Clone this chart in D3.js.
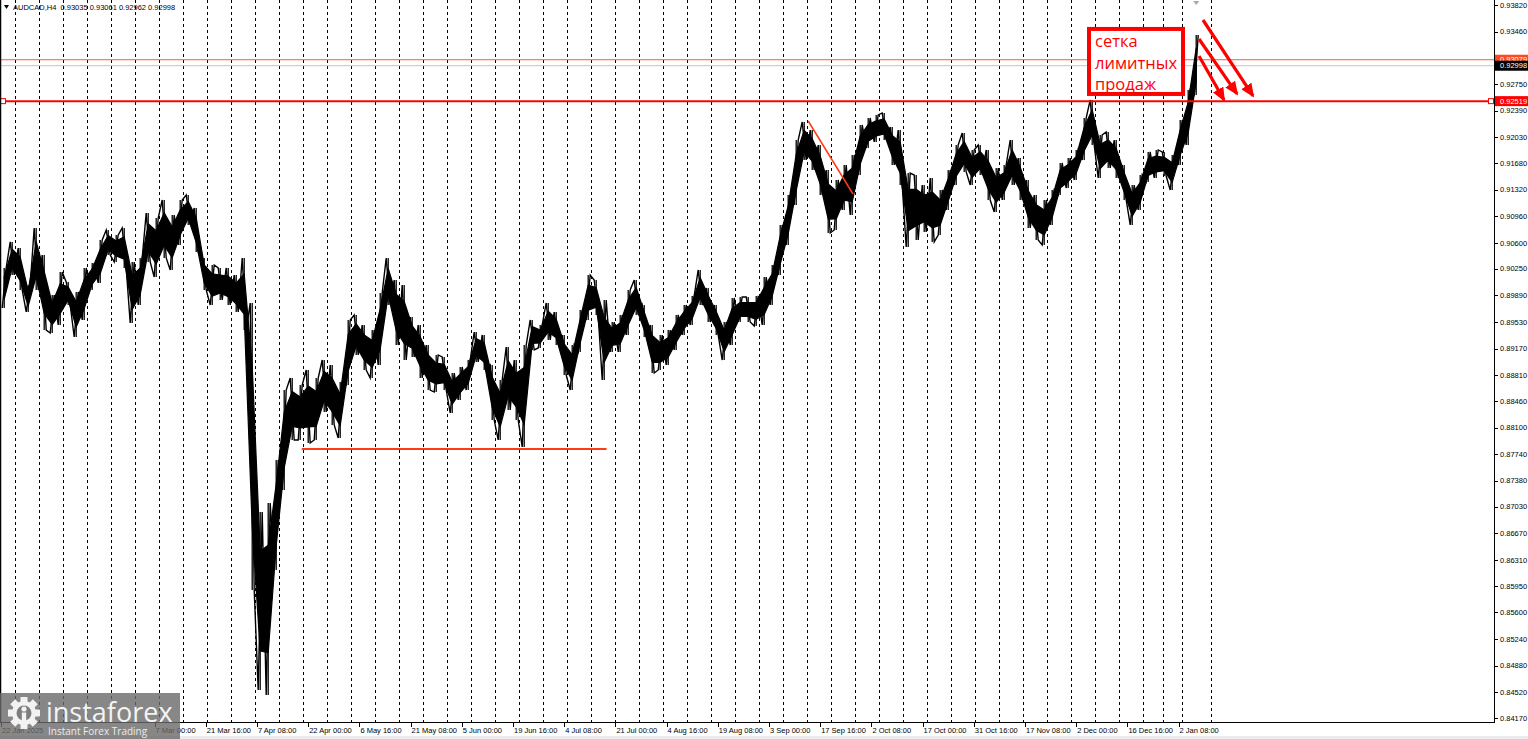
<!DOCTYPE html>
<html lang="en">
<head>
<meta charset="UTF-8">
<title>AUDCAD,H4</title>
<script src="https://d3js.org/d3.v7.min.js"></script>
<style>
  html, body { margin: 0; padding: 0; background: #fff; overflow: hidden; }
  svg { display: block; font-family: "Liberation Sans", Arial, sans-serif; }
</style>
</head>
<body>
<div id="chart"></div>
<script>
// price samples: high / low of every 10 H4 bars
const sampleStep = 10;
const highs = [
  0.90261, 0.90613, 0.90531, 0.90031, 0.90802, 0.90437, 0.89895, 0.90206, 0.90071, 0.89936,
  0.90261, 0.90328, 0.90640, 0.90775, 0.90707, 0.90802, 0.90342, 0.90396, 0.91005, 0.90937,
  0.91181, 0.90978, 0.91181, 0.91249, 0.91073, 0.90396, 0.90301, 0.90261, 0.90261, 0.90166,
  0.90396, 0.89787, 0.86958, 0.87080, 0.87662, 0.88609, 0.88772, 0.88677, 0.88880, 0.88772,
  0.89015, 0.88948, 0.88718, 0.89557, 0.89625, 0.89489, 0.89421, 0.89922, 0.90396, 0.90098,
  0.90031, 0.89597, 0.89489, 0.89218, 0.89083, 0.89056, 0.88839, 0.88921, 0.89015, 0.89394,
  0.89354, 0.88948, 0.88745, 0.89191, 0.89015, 0.89218, 0.89557, 0.89489, 0.89787, 0.89665,
  0.89354, 0.89218, 0.89692, 0.90166, 0.90098, 0.89828, 0.89530, 0.89625, 0.89963, 0.90098,
  0.89760, 0.89489, 0.89354, 0.89421, 0.89625, 0.89760, 0.89882, 0.90234, 0.89990, 0.89760,
  0.89530, 0.89855, 0.89868, 0.89868, 0.89882, 0.90139, 0.90301, 0.90843, 0.91249, 0.91993,
  0.92237, 0.92128, 0.91925, 0.91587, 0.91452, 0.91655, 0.91790, 0.92196, 0.92291, 0.92332,
  0.92359, 0.92169, 0.92128, 0.91546, 0.91519, 0.91384, 0.91479, 0.91316, 0.91587, 0.91925,
  0.92088, 0.91858, 0.91925, 0.91858, 0.91614, 0.91655, 0.91993, 0.91749, 0.91452, 0.91249,
  0.91181, 0.91316, 0.91682, 0.91749, 0.91858, 0.92291, 0.92535, 0.92061, 0.92101, 0.91993,
  0.91655, 0.91384, 0.91519, 0.91831, 0.91858, 0.91831, 0.91790, 0.92264, 0.92670, 0.93414
];
const lows = [
  0.89719, 0.90166, 0.89963, 0.89665, 0.89963, 0.89421, 0.89381, 0.89489, 0.89760, 0.89327,
  0.89557, 0.89963, 0.90058, 0.90437, 0.90342, 0.90261, 0.89516, 0.89760, 0.90342, 0.90139,
  0.90396, 0.90234, 0.90572, 0.90843, 0.90477, 0.89963, 0.89760, 0.89828, 0.89760, 0.89665,
  0.89421, 0.85902, 0.84549, 0.84481, 0.86173, 0.87256, 0.87933, 0.87933, 0.87892, 0.87933,
  0.88312, 0.88136, 0.87960, 0.88677, 0.89083, 0.88880, 0.88772, 0.88948, 0.89760, 0.89218,
  0.89015, 0.89056, 0.88772, 0.88609, 0.88582, 0.88609, 0.88298, 0.88474, 0.88609, 0.88988,
  0.88880, 0.88203, 0.87933, 0.88339, 0.88203, 0.87838, 0.89151, 0.89178, 0.89286, 0.89218,
  0.88812, 0.88609, 0.89124, 0.89557, 0.89625, 0.88745, 0.89124, 0.89124, 0.89354, 0.89625,
  0.89327, 0.88839, 0.88880, 0.88948, 0.89151, 0.89354, 0.89489, 0.89760, 0.89530, 0.89354,
  0.89015, 0.89218, 0.89530, 0.89530, 0.89476, 0.89489, 0.89760, 0.90166, 0.90572, 0.91113,
  0.91722, 0.91587, 0.91249, 0.90734, 0.90775, 0.91046, 0.90978, 0.91519, 0.91885, 0.91966,
  0.91993, 0.91655, 0.91384, 0.90545, 0.90640, 0.90748, 0.90613, 0.90707, 0.91046, 0.91384,
  0.91560, 0.91384, 0.91519, 0.91181, 0.91019, 0.91181, 0.91384, 0.91181, 0.90802, 0.90640,
  0.90572, 0.90843, 0.91249, 0.91343, 0.91452, 0.91722, 0.91925, 0.91479, 0.91614, 0.91479,
  0.91181, 0.90843, 0.91046, 0.91425, 0.91479, 0.91506, 0.91316, 0.91655, 0.91925, 0.92602
];

const priceTicks = [
  "0.93820", "0.93460", "0.93100", "0.92750", "0.92390", "0.92030", "0.91680",
  "0.91320", "0.90960", "0.90600", "0.90250", "0.89890", "0.89530", "0.89170",
  "0.88810", "0.88460", "0.88100", "0.87740", "0.87380", "0.87030", "0.86670",
  "0.86310", "0.85950", "0.85600", "0.85240", "0.84880", "0.84520", "0.84170"
];

// one label every 64 bars; the 2nd and 3rd sit under the watermark and are not visible
const timeLabelStep = 64;
const timeLabels = [
  "22 Jan 2025", "", "", "7 Mar 00:00", "21 Mar 16:00",
  "7 Apr 08:00", "22 Apr 00:00", "6 May 16:00", "21 May 08:00", "5 Jun 00:00",
  "19 Jun 16:00", "4 Jul 08:00", "21 Jul 00:00", "4 Aug 16:00", "19 Aug 08:00",
  "3 Sep 00:00", "17 Sep 16:00", "2 Oct 08:00", "17 Oct 00:00", "31 Oct 16:00",
  "17 Nov 08:00", "2 Dec 00:00", "16 Dec 16:00", "2 Jan 08:00"
];

// weekly separators (bar index of each Monday 00:00), holidays shorten the last weeks
const weekStarts = d3.range(18, 1429, 30).concat([1452, 1476, 1512]);

const header = "AUDCAD,H4  0.93035 0.93061 0.92962 0.92998";
const bidPrice = 0.92998;
const orangeLevel = 0.93079;
const redLevel = 0.92519;

const supportLine = { from: 376, to: 757, price: 0.8781 };
const trendLine = [[1009, 0.92250], [1065, 0.91262]];
const noteBox = { from: 1357.5, to: 1480, top: 0.93523, bottom: 0.92589 };
const noteLines = ["сетка", "лимитных", "продаж"];
const arrows = [
  [[1502.5, 0.93617], [1565, 0.92589]],
  [[1497.5, 0.93360], [1545, 0.92616]],
  [[1497.5, 0.93130], [1528.75, 0.92535]]
];

const width = 1528;
const height = 739;
const plot = { left: 0, right: 1494, top: 0, bottom: 722 };

const svg = d3.select('#chart')
  .append('svg')
  .attr('width', width)
  .attr('height', height);

const x = d3.scaleLinear()
  .domain([0, 1866])
  .range([1, 1493.8]);

const y = d3.scaleLinear()
  .domain([0.8417, 0.9382])
  .range([718, 5]);

svg.append('rect')
  .attr('x', 0).attr('y', 736)
  .attr('width', width).attr('height', 3)
  .attr('fill', '#ececec');

// week separators
svg.append('g')
  .selectAll('line')
  .data(weekStarts)
  .enter().append('line')
  .attr('x1', d => Math.round(x(d)) + 0.5)
  .attr('x2', d => Math.round(x(d)) + 0.5)
  .attr('y1', plot.top)
  .attr('y2', plot.bottom)
  .attr('stroke', '#000')
  .attr('stroke-width', 1)
  .attr('stroke-dasharray', '3,3');

// horizontal price levels
svg.append('line')
  .attr('x1', plot.left).attr('x2', plot.right)
  .attr('y1', y(orangeLevel)).attr('y2', y(orangeLevel))
  .attr('stroke', '#ff5a36').attr('stroke-width', 1);

svg.append('line')
  .attr('x1', plot.left).attr('x2', plot.right)
  .attr('y1', y(bidPrice)).attr('y2', y(bidPrice))
  .attr('stroke', '#c4c4c4').attr('stroke-width', 1);

// price series
const series = highs.map((h, i) => ({ bar: i * sampleStep + 4, high: h, low: lows[i] }));
const priceG = svg.append('g');

// solid core of overlapping bars
const core = d3.area()
  .x(d => x(d.bar))
  .y0(d => y(d.low + (d.high - d.low) * 0.22))
  .y1(d => y(d.high - (d.high - d.low) * 0.22));

priceG.append('path')
  .datum(series)
  .attr('d', core)
  .attr('fill', '#000')
  .attr('stroke', '#000')
  .attr('stroke-width', 1.2)
  .attr('stroke-linejoin', 'round');

// zigzag through highs and lows gives the ragged bar edges
const zig = [];
series.forEach((d, i) => {
  const next = series[Math.min(i + 1, series.length - 1)];
  const rising = (next.high + next.low) >= (d.high + d.low);
  const a = rising ? d.low : d.high;
  const b = rising ? d.high : d.low;
  zig.push([d.bar - 2.5, a], [d.bar, (a + b) / 2], [d.bar + 2.5, b]);
});

priceG.append('path')
  .datum(zig)
  .attr('d', d3.line().x(d => x(d[0])).y(d => y(d[1])))
  .attr('fill', 'none')
  .attr('stroke', '#000')
  .attr('stroke-width', 1.4);

priceG.selectAll('line')
  .data(series)
  .enter().append('line')
  .attr('x1', d => x(d.bar)).attr('x2', d => x(d.bar))
  .attr('y1', d => y(d.high)).attr('y2', d => y(d.low))
  .attr('stroke', '#000')
  .attr('stroke-width', 1.3);

// red support line and trend line
svg.append('line')
  .attr('x1', x(supportLine.from)).attr('x2', x(supportLine.to))
  .attr('y1', y(supportLine.price)).attr('y2', y(supportLine.price))
  .attr('stroke', '#ff3b14').attr('stroke-width', 2);

svg.append('line')
  .attr('x1', x(trendLine[0][0])).attr('y1', y(trendLine[0][1]))
  .attr('x2', x(trendLine[1][0])).attr('y2', y(trendLine[1][1]))
  .attr('stroke', '#ff3b14').attr('stroke-width', 1.5);

// red level with its handles
svg.append('line')
  .attr('x1', plot.left + 2).attr('x2', plot.right)
  .attr('y1', y(redLevel)).attr('y2', y(redLevel))
  .attr('stroke', '#ff0000').attr('stroke-width', 2);

svg.selectAll('.handle')
  .data([plot.left + 3, plot.right - 3])
  .enter().append('rect')
  .attr('class', 'handle')
  .attr('x', d => d - 2.5)
  .attr('y', y(redLevel) - 2.5)
  .attr('width', 5).attr('height', 5)
  .attr('fill', '#fff')
  .attr('stroke', '#ff0000')
  .attr('stroke-width', 1);

// note box
svg.append('rect')
  .attr('x', x(noteBox.from) + 2)
  .attr('y', y(noteBox.top) + 2)
  .attr('width', x(noteBox.to) - x(noteBox.from) - 4)
  .attr('height', y(noteBox.bottom) - y(noteBox.top) - 4)
  .attr('fill', '#fff')
  .attr('stroke', '#ff0000')
  .attr('stroke-width', 4);

svg.append('g')
  .selectAll('text')
  .data(noteLines)
  .enter().append('text')
  .attr('x', x(noteBox.from) + 8)
  .attr('y', (d, i) => y(noteBox.top) + 20 + i * 21.7)
  .attr('fill', '#ff0000')
  .style('font-family', '"Open Sans", sans-serif')
  .style('font-size', '16.5px')
  .text(d => d);

// arrows
const defs = svg.append('defs');
defs.append('marker')
  .attr('id', 'head')
  .attr('markerUnits', 'userSpaceOnUse')
  .attr('markerWidth', 14).attr('markerHeight', 12)
  .attr('refX', 12).attr('refY', 6)
  .attr('orient', 'auto')
  .append('path')
  .attr('d', 'M0,0 L14,6 L0,12 Z')
  .attr('fill', '#ff0000');

svg.append('g')
  .selectAll('line')
  .data(arrows)
  .enter().append('line')
  .attr('x1', d => x(d[0][0])).attr('y1', d => y(d[0][1]))
  .attr('x2', d => x(d[1][0])).attr('y2', d => y(d[1][1]))
  .attr('stroke', '#ff0000')
  .attr('stroke-width', 3.2)
  .attr('marker-end', 'url(#head)');

// frame and axes
svg.append('line')
  .attr('x1', 0.5).attr('x2', 0.5).attr('y1', 0).attr('y2', plot.bottom)
  .attr('stroke', '#000').attr('stroke-width', 1.5);
svg.append('line')
  .attr('x1', plot.left).attr('x2', plot.right + 0.5)
  .attr('y1', plot.bottom + 0.5).attr('y2', plot.bottom + 0.5)
  .attr('stroke', '#000');
svg.append('line')
  .attr('x1', plot.right + 0.5).attr('x2', plot.right + 0.5)
  .attr('y1', 0).attr('y2', plot.bottom + 1)
  .attr('stroke', '#000');

const yAxis = svg.append('g');
yAxis.selectAll('line')
  .data(priceTicks)
  .enter().append('line')
  .attr('x1', plot.right).attr('x2', plot.right + 4)
  .attr('y1', d => Math.round(y(+d)) + 0.5)
  .attr('y2', d => Math.round(y(+d)) + 0.5)
  .attr('stroke', '#000');
yAxis.selectAll('text')
  .data(priceTicks)
  .enter().append('text')
  .attr('x', plot.right + 6)
  .attr('y', d => y(+d))
  .attr('dy', '0.35em')
  .style('font-size', '7.5px')
  .attr('fill', '#000')
  .text(d => d);

// price labels on the axis
const priceLabels = [
  { price: orangeLevel, fill: '#ff4a1c', color: '#fff' },
  { price: bidPrice, fill: '#000', color: '#fff' },
  { price: redLevel, fill: '#ff0000', color: '#fff' }
];
const pl = svg.append('g').selectAll('g')
  .data(priceLabels)
  .enter().append('g');
pl.append('rect')
  .attr('x', plot.right + 1)
  .attr('y', d => y(d.price) - 5)
  .attr('width', 33).attr('height', 10)
  .attr('fill', d => d.fill);
pl.append('text')
  .attr('x', plot.right + 6)
  .attr('y', d => y(d.price))
  .attr('dy', '0.35em')
  .style('font-size', '7.5px')
  .attr('fill', d => d.color)
  .text(d => d.price.toFixed(5));

const timeTicks = timeLabels
  .map((label, i) => ({ label, bar: i * timeLabelStep }))
  .filter(d => d.label !== "");

const xAxis = svg.append('g');
xAxis.selectAll('line')
  .data(timeTicks)
  .enter().append('line')
  .attr('x1', d => Math.round(x(d.bar)) + 0.5)
  .attr('x2', d => Math.round(x(d.bar)) + 0.5)
  .attr('y1', plot.bottom).attr('y2', plot.bottom + 5)
  .attr('stroke', '#000');
xAxis.selectAll('text')
  .data(timeTicks)
  .enter().append('text')
  .attr('x', d => x(d.bar) + 1)
  .attr('y', 733)
  .style('font-size', '7.5px')
  .attr('fill', '#000')
  .text(d => d.label);

// header
svg.append('path')
  .attr('d', 'M4,5 L9,5 L6.5,9 Z')
  .attr('fill', '#000');
svg.append('text')
  .attr('x', 13).attr('y', 10)
  .style('font-size', '7.5px')
  .style('white-space', 'pre')
  .attr('fill', '#000')
  .text(header);

// chart shift marker
const lastBar = series[series.length - 1].bar;
svg.append('path')
  .attr('d', `M${x(lastBar) - 3},1 L${x(lastBar) + 3},1 L${x(lastBar)},5 Z`)
  .attr('fill', '#a8a8a8');

// watermark
const logo = svg.append('g');
logo.append('rect')
  .attr('x', 0).attr('y', 693)
  .attr('width', 180).attr('height', 46)
  .attr('fill', 'rgb(105,105,105)')
  .attr('fill-opacity', 0.8);

const gear = logo.append('g').attr('transform', 'translate(24,713)');
d3.range(8).forEach(k => {
  gear.append('rect')
    .attr('x', -3.5).attr('y', -16)
    .attr('width', 7).attr('height', 7)
    .attr('fill', '#f2f2f2')
    .attr('transform', `rotate(${k * 45})`);
});
gear.append('circle').attr('r', 12).attr('fill', '#f2f2f2');
gear.append('circle').attr('r', 7.5).attr('fill', '#7d7d7d');
gear.append('circle').attr('cx', 0).attr('cy', -4).attr('r', 2.6).attr('fill', '#f2f2f2');
gear.append('rect').attr('x', -2.2).attr('y', -0.5).attr('width', 4.4).attr('height', 12).attr('fill', '#f2f2f2');

logo.append('text')
  .attr('x', 46).attr('y', 722)
  .style('font-family', '"Open Sans", sans-serif')
  .style('font-size', '27px')
  .attr('fill', '#f4f4f4')
  .text('instaforex');
logo.append('text')
  .attr('x', 48).attr('y', 735)
  .style('font-family', '"Open Sans", sans-serif')
  .style('font-size', '10px')
  .attr('fill', '#ececec')
  .text('Instant Forex Trading');
</script>
</body>
</html>
